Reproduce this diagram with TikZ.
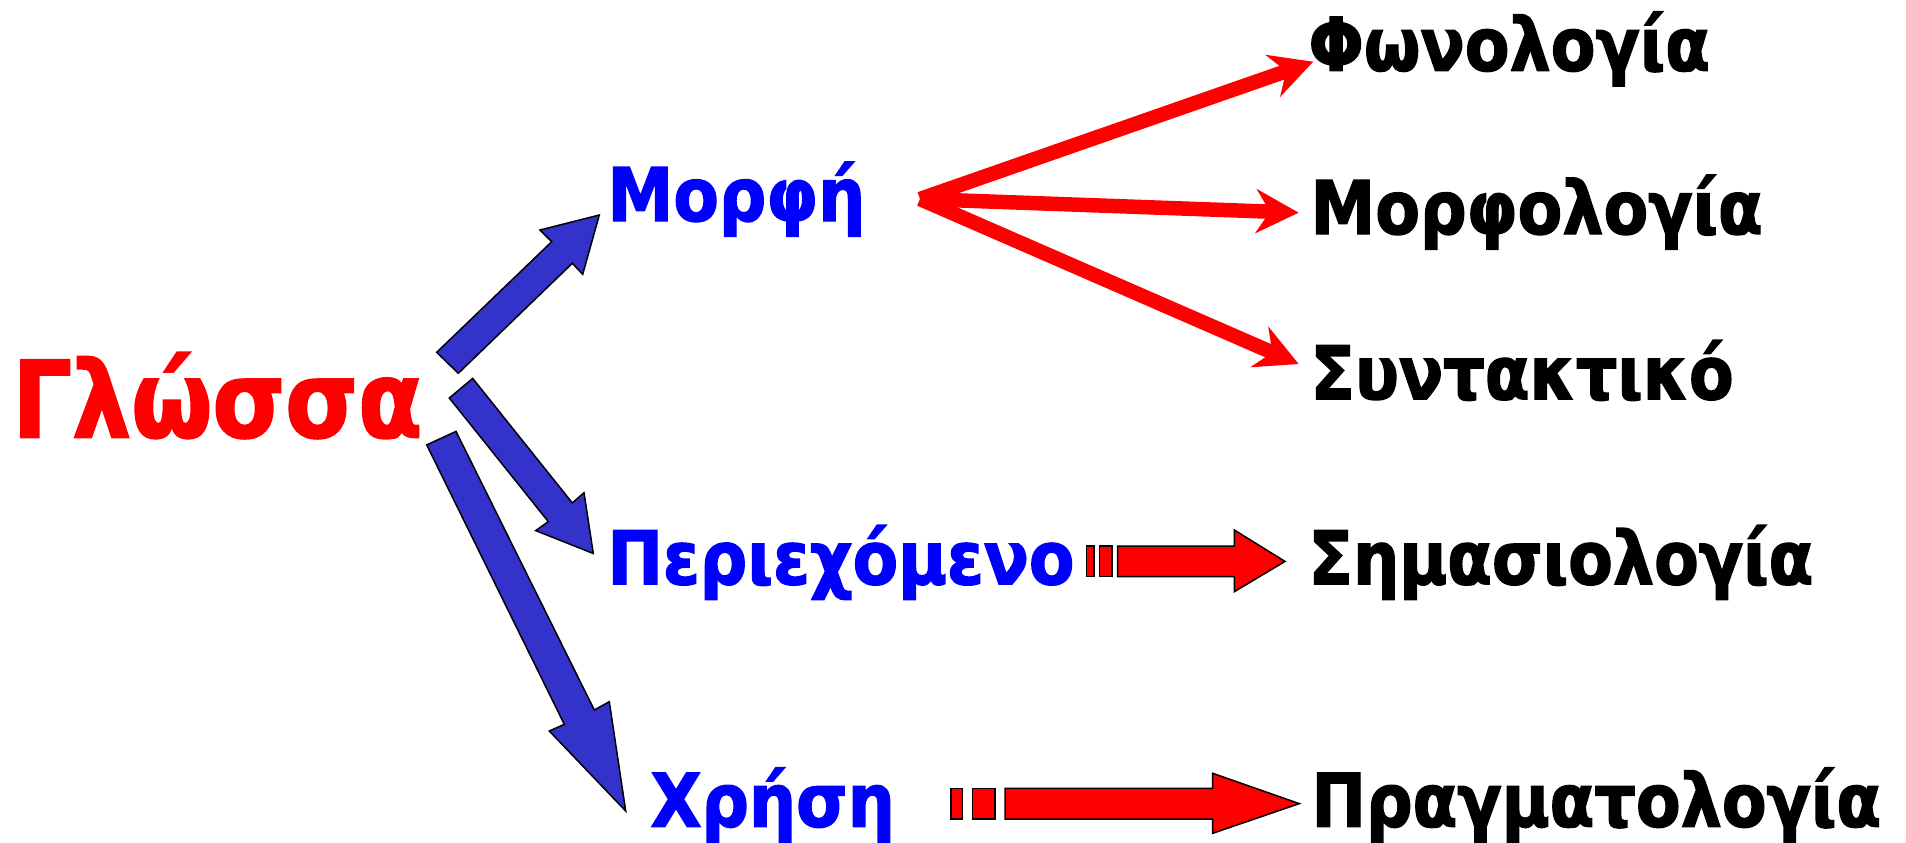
\documentclass[tikz,border=0pt]{standalone}
\usepackage{fontspec}
\newfontfamily\gf{DejaVu Sans Bold}[FakeStretch=0.88, FakeBold=1.8]
\newfontfamily\gfb{DejaVu Sans Bold}[FakeStretch=0.895, FakeBold=1.8]
\usetikzlibrary{arrows.meta}
\definecolor{barblue}{HTML}{3333CC}
\definecolor{txtblue}{HTML}{0000FF}
\definecolor{rd}{HTML}{FF0000}
\begin{document}
\begin{tikzpicture}[x=0.4pt,y=-0.4pt,
  lbl/.style={inner sep=0pt, anchor=base west, font=\gf\fontsize{29.6pt}{30pt}\selectfont},
  toplbl/.style={lbl, text=rd, font=\gf\fontsize{42.5pt}{44pt}\selectfont},
  midlbl/.style={lbl, text=txtblue, font=\gfb\fontsize{29.6pt}{30pt}\selectfont},
  endlbl/.style={lbl, text=black},
  blockblue/.style={fill=barblue, draw=black, line width=0.6pt, line join=miter},
  blockred/.style={fill=rd, draw=black, line width=0.6pt, line join=miter},
  fan/.style={draw=rd, line width=5.8pt, line cap=butt,
    -{Stealth[length=17pt, width=17.5pt, inset=5.5pt]}}
]
\useasboundingbox (0,0) rectangle (1906,842);

% texts
\node[toplbl] (glossa) at (12,437.3) {Γλώσσα};
\node[midlbl] (morfi) at (607,221) {Μορφή};
\node[midlbl] (perie) at (607,584.3) {Περιεχόμενο};
\node[midlbl] (xrisi) at (650,826.7) {Χρήση};
\node[endlbl] (fono) at (1308,70.7) {Φωνολογία};
\node[endlbl] (morfo) at (1310,234) {Μορφολογία};
\node[endlbl] (synt) at (1310,399.3) {Συντακτικό};
\node[endlbl] (sima) at (1308,584.3) {Σημασιολογία};
\node[endlbl] (prag) at (1311,826.7) {Πραγματολογία};

% blue block arrows
\draw[blockblue] (436.7,352.3) -- (551.7,241.7) -- (540,230) -- (599.3,215)
  -- (582.7,274.3) -- (572.3,263.3) -- (458.3,373.3) -- cycle;
\draw[blockblue] (449.3,398) -- (548.3,521.6) -- (535.7,530.6) -- (593.3,553.5)
  -- (584,492.7) -- (572.3,502.9) -- (472.7,378.4) -- cycle;
\draw[blockblue] (426.7,444.9) -- (564.3,724.3) -- (549.3,731) -- (625.7,811)
  -- (609.3,701.7) -- (594.3,710) -- (456,431.4) -- cycle;

% red fan
\coordinate (fanorg) at (920,199);
\coordinate (tipfono) at (1313.3,61.7);
\coordinate (tipmorfo) at (1298.7,212.7);
\coordinate (tipsynt) at (1298.7,364);
\draw[fan] (fanorg) -- (tipfono);
\draw[fan] (fanorg) -- (tipmorfo);
\draw[fan] (fanorg) -- (tipsynt);

% striped red arrows
\draw[blockred] (1086.7,546) rectangle (1094,576.7);
\draw[blockred] (1099.3,546) rectangle (1112,576.7);
\draw[blockred] (1117.7,546) -- (1234.3,546) -- (1234.3,530) -- (1285,561.4)
  -- (1234.3,591.7) -- (1234.3,576.7) -- (1117.7,576.7) -- cycle;

\draw[blockred] (951,788.3) rectangle (962.7,819);
\draw[blockred] (972.7,788.3) rectangle (995,819);
\draw[blockred] (1005,788.3) -- (1212.7,788.3) -- (1212.7,773.3) -- (1299.3,803.6)
  -- (1212.7,833.3) -- (1212.7,819) -- (1005,819) -- cycle;
\end{tikzpicture}
\end{document}
